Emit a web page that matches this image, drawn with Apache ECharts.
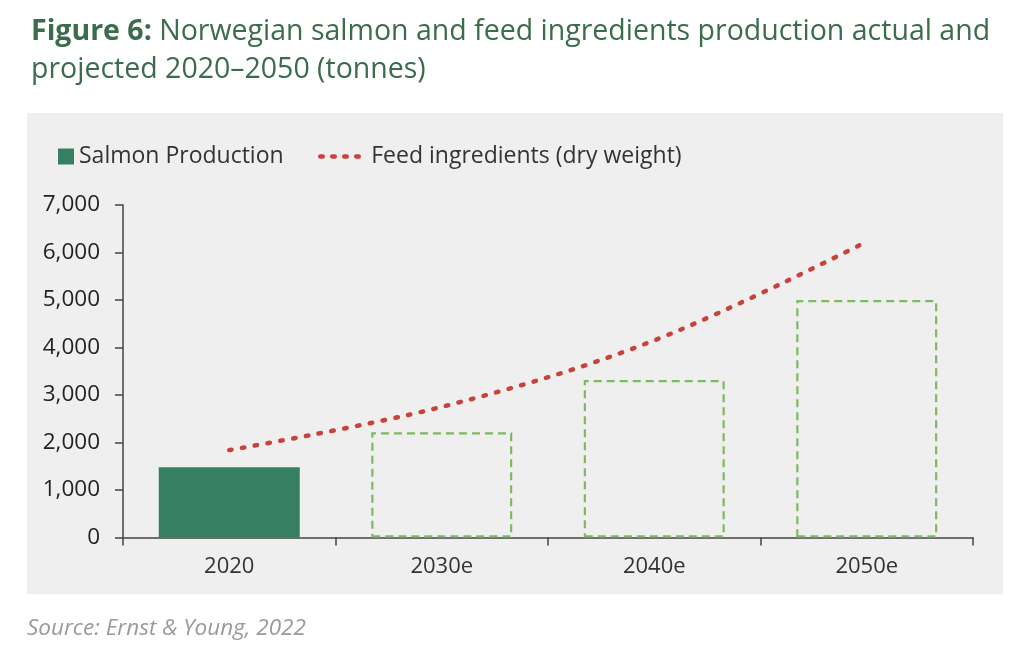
<!DOCTYPE html>
<html>
<head>
    <meta charset="utf-8"/>
    <title>Figure 6</title>
    <script src="https://cdn.jsdelivr.net/npm/echarts@6/dist/echarts.min.js"></script>
    <style>
        html, body { margin: 0; padding: 0; background: #fff; }
        #chart { width: 1024px; height: 654px; }
    </style>
</head>
<body>
<div id="chart"></div>
<script type="text/javascript">
    // data (tonnes)
    let categories = ['2020', '2030e', '2040e', '2050e'];
    let salmon = [1480, 2215, 3315, 5000];
    let feed = [1840, 2750, 4150, 6230];
    let yTicks = [0, 1000, 2000, 3000, 4000, 5000, 6000, 7000];

    let green = '#377f63';
    let lightGreen = '#7cba5f';
    let red = '#c9413b';
    let font = '"Open Sans", "Noto Sans", sans-serif';

    let barData = salmon.map(function (v, i) {
        if (i === 0) {
            return {value: v, itemStyle: {color: green}};
        }
        return {
            value: v,
            itemStyle: {color: 'transparent', borderColor: lightGreen, borderWidth: 2.2, borderType: [8, 5]}
        };
    });

    let chart = echarts.init(document.getElementById('chart'));
    chart.setOption({
        backgroundColor: '#fff',
        animation: false,
        graphic: [
            {type: 'rect', z: -10, shape: {x: 27, y: 113, width: 976, height: 481}, style: {fill: '#efefef'}},
            {
                type: 'text', left: 27, top: 617,
                style: {text: 'Source: Ernst & Young, 2022', font: 'italic 22.5px ' + font, fill: '#9a9a9a'}
            }
        ],
        title: {
            left: 26, top: 8,
            text: '{b|Figure 6:} Norwegian salmon and feed ingredients production actual and\nprojected 2020\u20132050 (tonnes)',
            textStyle: {
                fontFamily: font, fontSize: 28.5, fontWeight: 'normal', color: '#3b6c4c', lineHeight: 38,
                rich: {b: {fontFamily: font, fontSize: 28.5, fontWeight: 'bold', color: '#3b6c4c', lineHeight: 38}}
            }
        },
        legend: [
            {
                left: 53, top: 140, itemWidth: 16, itemHeight: 16, itemGap: 8,
                data: [{name: 'Salmon Production', icon: 'rect', itemStyle: {color: green}}],
                textStyle: {fontFamily: font, fontSize: 23, color: '#333'}
            },
            {
                left: 313, top: 140, itemWidth: 46, itemHeight: 16, itemGap: 12,
                data: [{
                    name: 'Feed ingredients (dry weight)',
                    itemStyle: {color: 'transparent', borderWidth: 0},
                    lineStyle: {color: red, width: 4.5, type: [2.5, 9.5], cap: 'round'}
                }],
                textStyle: {fontFamily: font, fontSize: 23, color: '#333'}
            }
        ],
        grid: {left: 123, right: 51, top: 205, bottom: 116.5},
        xAxis: {
            type: 'category',
            data: categories,
            axisLine: {lineStyle: {color: '#444', width: 1.5}},
            axisTick: {show: true, length: 8, alignWithLabel: false, lineStyle: {color: '#444', width: 1.5}},
            axisLabel: {fontFamily: font, fontSize: 22, color: '#333', margin: 18}
        },
        yAxis: {
            type: 'value',
            min: yTicks[0],
            max: yTicks[yTicks.length - 1],
            interval: 1000,
            splitLine: {show: false},
            axisLine: {show: true, lineStyle: {color: '#444', width: 1.5}},
            axisTick: {show: true, length: 8, lineStyle: {color: '#444', width: 1.5}},
            axisLabel: {
                fontFamily: font, fontSize: 22.5, color: '#222', margin: 23,
                formatter: function (v) { return v.toLocaleString('en-US'); }
            }
        },
        series: [
            {
                name: 'Salmon Production',
                type: 'bar',
                barWidth: 141,
                itemStyle: {color: green},
                data: barData
            },
            {
                name: 'Feed ingredients (dry weight)',
                type: 'line',
                smooth: 0.35,
                symbol: 'none',
                color: red,
                lineStyle: {color: red, width: 4.5, type: [2.5, 10.5], cap: 'round'},
                data: feed
            }
        ]
    });
</script>
</body>
</html>
